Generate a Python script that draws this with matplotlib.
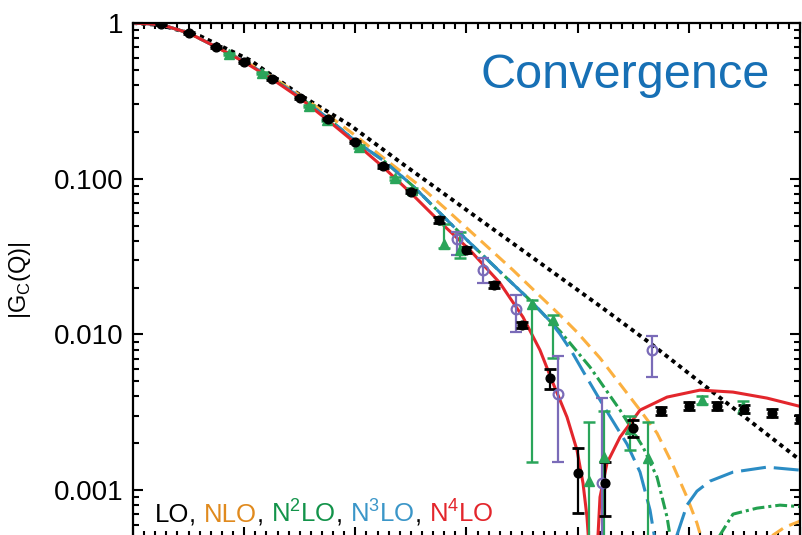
import numpy as np
import matplotlib
matplotlib.use("Agg")
import matplotlib.pyplot as plt
from matplotlib.ticker import LogLocator, NullFormatter, MultipleLocator
from matplotlib.offsetbox import TextArea, HPacker, AnchoredOffsetbox

plt.rcParams['font.family'] = ['Liberation Sans', 'DejaVu Sans']
plt.rcParams['mathtext.fontset'] = 'custom'
plt.rcParams['mathtext.rm'] = 'Liberation Sans'

# ---- theory curves (Q in fm^-1, |G_C|) ----
q_lo = [0.0, 0.243, 0.603, 1.052, 1.502, 1.952, 2.402, 2.852, 3.301, 3.751, 4.201, 4.651, 5.100, 5.550, 6.0]
g_lo = [1.0, 0.971, 0.825, 0.578, 0.345, 0.221, 0.128, 0.0751, 0.0441, 0.0259, 0.0152, 0.00880, 0.00494, 0.00278, 0.00156]

q_nlo = [0.0, 0.25, 0.5, 0.75, 1.0, 1.25, 1.5, 1.754, 2.006, 2.312, 2.582, 2.825, 3.121, 3.418, 3.661,
         3.841, 3.994, 4.201, 4.381, 4.561, 4.714, 4.857, 4.983, 5.073, 5.118, 5.433, 5.757, 5.865, 6.0]
g_nlo = [1.0, 0.978, 0.863, 0.701, 0.570, 0.450, 0.345, 0.2564, 0.1879, 0.1261, 0.0897, 0.0629, 0.0404, 0.0259, 0.01763,
         0.01331, 0.01035, 0.00705, 0.00480, 0.003266, 0.002323, 0.001448, 0.000902, 0.000614, 0.000477, 1e-6, 0.000514, 0.000579, 0.000632]

q_n2lo = [0.0, 0.25, 0.5, 0.75, 1.0, 1.25, 1.5, 1.75, 2.0, 2.258, 2.519, 2.762, 3.004, 3.211, 3.409, 3.571, 3.751,
          3.841, 4.111, 4.381, 4.588, 4.714, 4.804, 4.830, 5.010, 5.280, 5.397, 5.613, 5.820, 6.0]
g_n2lo = [1.0, 0.978, 0.863, 0.701, 0.566, 0.443, 0.3346, 0.2453, 0.1746, 0.1299, 0.0897, 0.0602, 0.0404, 0.02915, 0.02137, 0.01662, 0.01218,
          0.01050, 0.00617, 0.003266, 0.001890, 0.001212, 0.000671, 0.000514, 1e-6, 0.000514, 0.000701, 0.000766, 0.000801, 0.000783]

q_n3lo = [0.0, 0.25, 0.5, 0.75, 1.0, 1.25, 1.5, 1.75, 2.0, 2.258, 2.519, 2.762, 3.004, 3.211, 3.409, 3.571, 3.751,
          3.841, 3.949, 4.048, 4.228, 4.444, 4.561, 4.651, 4.696, 4.759, 4.893, 4.983, 5.073, 5.190, 5.397, 5.703, 6.0]
g_n3lo = [1.0, 0.978, 0.863, 0.701, 0.566, 0.443, 0.3346, 0.2453, 0.1746, 0.1299, 0.0897, 0.0602, 0.0404, 0.02915, 0.02137, 0.01662, 0.01218,
          0.01005, 0.00770, 0.00581, 0.003516, 0.001975, 0.001305, 0.000744, 0.000477, 1e-6, 0.000514, 0.000801, 0.000985, 0.001142, 0.001305, 0.001405, 0.001344]

q_n4lo = [0.0, 0.25, 0.5, 0.75, 1.0, 1.25, 1.5, 1.75, 2.0, 2.25, 2.5, 2.762, 3.031, 3.301, 3.508, 3.661, 3.778, 3.904,
          3.994, 4.048, 4.084, 4.111, 4.133, 4.156, 4.183, 4.201, 4.264, 4.381, 4.561, 4.804, 5.100, 5.397, 5.703, 6.0]
g_n4lo = [1.0, 0.978, 0.863, 0.701, 0.562, 0.437, 0.330, 0.2381, 0.1695, 0.1189, 0.0809, 0.0527, 0.0348, 0.02137, 0.01292, 0.00793, 0.00487, 0.002944,
          0.001807, 0.001109, 0.000671, 0.00035, 1e-6, 0.00035, 0.000514, 0.000902, 0.001491, 0.002190, 0.003266, 0.003958, 0.004389, 0.004262, 0.003900, 0.00345]

# ---- data sets: value, lower and upper end of the error bar ----
q_black = [0.25, 0.5, 0.75, 1.0, 1.25, 1.5, 1.75, 2.0, 2.25, 2.5, 2.75, 3.0, 3.25, 3.5, 3.75, 4.0,
           4.25, 4.5, 4.75, 5.0, 5.25, 5.5, 5.75, 6.0]
g_black = [0.981, 0.863, 0.701, 0.562, 0.437, 0.328, 0.2416, 0.1720, 0.1206, 0.0825, 0.0543, 0.0348, 0.02075, 0.01148, 0.00526, 0.001292,
           0.001104, 0.002514, 0.003218, 0.003464, 0.003464, 0.003314, 0.003126, 0.002858]
lo_black = [0.967, 0.850, 0.690, 0.553, 0.430, 0.323, 0.2375, 0.1690, 0.1180, 0.0805, 0.0520, 0.0333, 0.01985, 0.01095, 0.00445, 0.000715,
            0.000681, 0.002181, 0.003030, 0.003270, 0.003270, 0.003125, 0.002945, 0.002690]
hi_black = [0.995, 0.876, 0.712, 0.571, 0.444, 0.333, 0.2457, 0.1750, 0.1232, 0.0845, 0.0566, 0.0363, 0.02165, 0.01201, 0.00599, 0.001853,
            0.001514, 0.002817, 0.003410, 0.003660, 0.003660, 0.003505, 0.003310, 0.003030]

q_green = [0.864, 1.158, 1.586, 1.743, 2.033, 2.357, 2.507, 2.80, 2.94, 3.59, 3.78, 4.10, 4.24, 4.47, 4.63, 5.12, 5.49]
g_green = [0.629, 0.4752, 0.2929, 0.2381, 0.1605, 0.1006, 0.0846, 0.0380, 0.0348, 0.01566, 0.01236, 0.001142, 0.00163, 0.002465, 0.001606, 0.003786, 0.003464]
lo_green = [0.620, 0.468, 0.288, 0.234, 0.157, 0.098, 0.0825, 0.0359, 0.0309, 0.001513, 0.00705, 0.0003, 0.0003, 0.001807, 0.0003, 0.00357, 0.003126]
hi_green = [0.638, 0.482, 0.298, 0.242, 0.164, 0.103, 0.0867, 0.0511, 0.0454, 0.01662, 0.01331, 0.002734, 0.00322, 0.00299, 0.002734, 0.00401, 0.00373]

q_purple = [2.912, 3.151, 3.443, 3.826, 4.216, 4.666]
g_purple = [0.0408, 0.0259, 0.01448, 0.004136, 0.001104, 0.007932]
lo_purple = [0.03234, 0.02128, 0.01040, 0.001507, 0.0003, 0.005297]
hi_purple = [0.0454, 0.0308, 0.01789, 0.007261, 0.003917, 0.009757]

fig = plt.figure(figsize=(8.03, 5.35), dpi=100)
ax = fig.add_axes([133 / 803, -2 / 535, 667 / 803, 514 / 535])

ax.plot(q_lo, g_lo, color='black', lw=2.8, dashes=(1.1, 1.1))
ax.plot(q_nlo, g_nlo, color='#fbb040', lw=2.2, dashes=(4.2, 2.3))
ax.plot(q_n2lo, g_n2lo, color='#23a04f', lw=2.2, dashes=(3.9, 1.3, 1.0, 1.3))
ax.plot(q_n3lo, g_n3lo, color='#2b8cc4', lw=2.2, dashes=(8.2, 2.6))
ax.plot(q_n4lo, g_n4lo, color='#e3262c', lw=2.2)


def err(g, lo, hi):
    g = np.array(g)
    return [g - np.array(lo), np.array(hi) - g]


ax.errorbar(q_green, g_green, yerr=err(g_green, lo_green, hi_green), fmt='^', color='#2aa55a',
            ms=7.5, elinewidth=1.6, capsize=4.3, capthick=1.8)
ax.errorbar(q_purple, g_purple, yerr=err(g_purple, lo_purple, hi_purple), fmt='o', color='#7a6bb8',
            mfc='none', mew=1.6, ms=7, elinewidth=1.6, capsize=4.3, capthick=1.8)
ax.errorbar(q_black, g_black, yerr=err(g_black, lo_black, hi_black), fmt='o', color='black',
            ms=6.3, elinewidth=1.6, capsize=4.3, capthick=2.0)

ax.set_yscale('log')
ax.set_xlim(0, 6)
ax.set_ylim(0.0005, 1)
ax.set_yticks([0.001, 0.01, 0.1, 1], labels=['0.001', '0.010', '0.100', '1'])
ax.yaxis.set_minor_locator(LogLocator(subs=np.arange(2, 10)))
ax.yaxis.set_minor_formatter(NullFormatter())
ax.xaxis.set_major_locator(MultipleLocator(1))
ax.xaxis.set_minor_locator(MultipleLocator(0.1))
ax.tick_params(which='both', direction='in', top=True, right=True, width=1.5,
               labelbottom=False, labelsize=20, pad=7)
ax.tick_params(which='major', length=7)
ax.tick_params(which='minor', length=4)
for s in ax.spines.values():
    s.set_linewidth(1.6)

ax.set_ylabel('|G$_\\mathregular{C}$(Q)|', fontsize=17)
ax.yaxis.set_label_coords(-100 / 667, 0.5)

fig.text(770 / 803, 1 - 88 / 535, 'Convergence', color='#1770b5', fontsize=35,
         ha='right', va='baseline')

# coloured order labels
parts = [('LO', 'black'), (', ', 'black'), ('NLO', '#e08a1e'), (', ', 'black'),
         ('N$^\\mathregular{2}$LO', '#13934a'), (', ', 'black'),
         ('N$^\\mathregular{3}$LO', '#3b96c8'), (', ', 'black'),
         ('N$^\\mathregular{4}$LO', '#e3262c')]
boxes = [TextArea(t, textprops=dict(color=c, fontsize=18.5)) for t, c in parts]
row = HPacker(children=boxes, align='baseline', pad=0, sep=0)
anch = AnchoredOffsetbox(loc='lower left', child=row, frameon=False, pad=0, borderpad=0,
                         bbox_to_anchor=(155 / 803, 1 - 527 / 535), bbox_transform=fig.transFigure)
fig.add_artist(anch)

fig.savefig('out.png', dpi=100)
